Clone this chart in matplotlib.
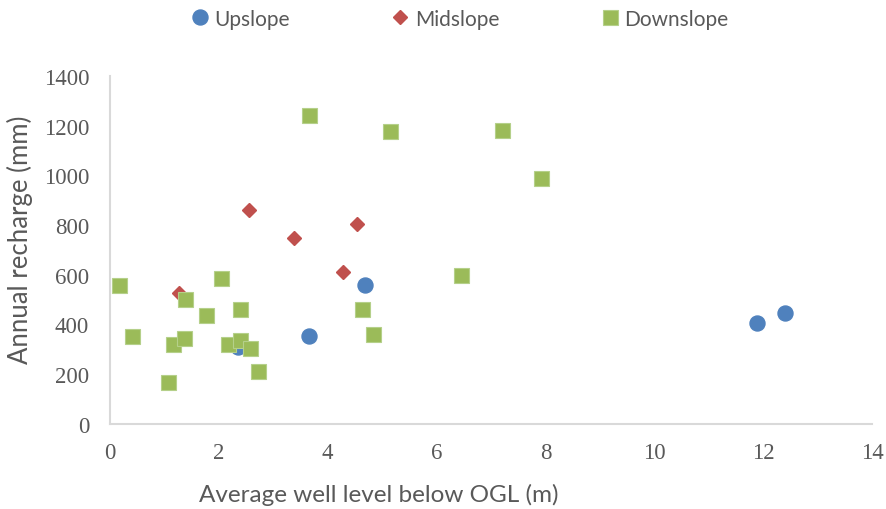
import matplotlib.pyplot as plt

# average well level below OGL (m) and annual recharge (mm) per slope position
up_x = [2.35, 3.66, 4.68, 11.89, 12.40]
up_y = [310, 351, 558, 406, 445]

mid_x = [1.26, 2.55, 3.38, 4.28, 4.53]
mid_y = [526, 860, 747, 610, 804]

down_x = [0.17, 0.41, 1.07, 1.15, 1.35, 1.38, 1.76, 2.03, 2.16, 2.38, 2.38,
          2.58, 2.72, 3.65, 4.63, 4.83, 5.14, 6.45, 7.21, 7.91]
down_y = [557, 351, 166, 322, 345, 502, 437, 586, 322, 460, 336,
          303, 210, 1243, 461, 361, 1178, 598, 1184, 990]

grey = "#595959"
sans = ["Lato", "DejaVu Sans"]
serif = ["Liberation Serif", "DejaVu Serif"]

fig = plt.figure(figsize=(8.86, 5.10), dpi=100)
ax = fig.add_axes([0.1242, 0.1676, 0.86, 0.6814])

ax.plot(up_x, up_y, "o", ms=10.8, color="#4F81BD", mec="#4F81BD", label="Upslope")
ax.plot(mid_x, mid_y, "D", ms=7.6, color="#C0504D", mec="#C0504D", label="Midslope")
ax.plot(down_x, down_y, "s", ms=10.8, color="#9BBB59", mec="#B5D08A", mew=0.8,
        label="Downslope")

ax.set_xlim(0, 14)
ax.set_ylim(0, 1400)
ax.set_xticks(range(0, 15, 2))
ax.set_yticks(range(0, 1401, 200))

for side in ["top", "right"]:
    ax.spines[side].set_visible(False)
for side in ["left", "bottom"]:
    ax.spines[side].set_color("#D9D9D9")
    ax.spines[side].set_linewidth(1.5)

ax.tick_params(length=0, colors=grey, labelsize=16.5)
ax.tick_params(axis="x", pad=13)
ax.tick_params(axis="y", pad=15)
for lbl in ax.get_xticklabels() + ax.get_yticklabels():
    lbl.set_family(serif)

ax.set_xlabel("Average well level below OGL (m)", fontsize=17.5, color=grey,
              family=sans, va="center")
ax.set_ylabel("Annual recharge (mm)", fontsize=18.5, color=grey,
              family=sans, va="center")
ax.xaxis.set_label_coords(0.352, -0.203)
ax.yaxis.set_label_coords(-0.118, 0.531)

fig.legend(loc="upper center", bbox_to_anchor=(0.519, 1.018), ncol=3,
           frameon=False, handlelength=0.8, handletextpad=0.3,
           columnspacing=4.9, prop={"family": sans, "size": 15},
           labelcolor=grey)

fig.savefig("out.png", dpi=100)
